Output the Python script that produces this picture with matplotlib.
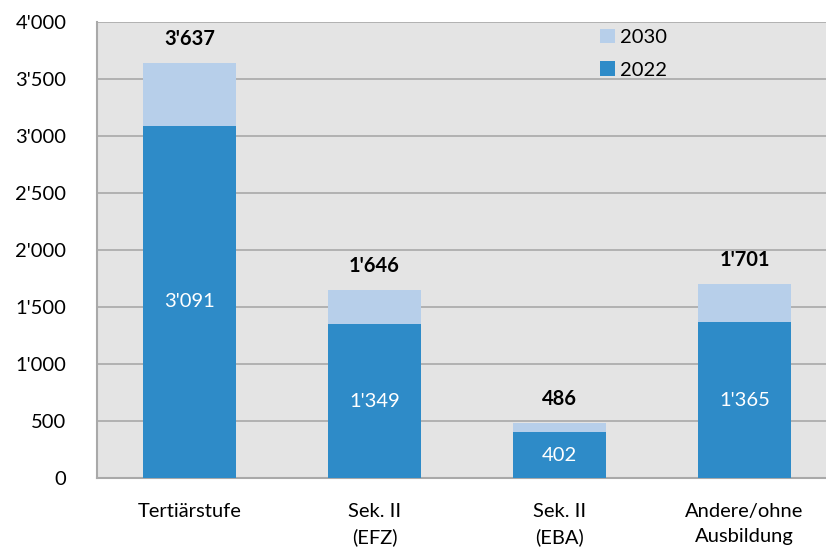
import matplotlib.pyplot as plt
import numpy as np

categories = ["Tertiärstufe", "Sek. II\n(EFZ)", "Sek. II\n(EBA)", "Andere/ohne\nAusbildung"]
values_2022 = [3091, 1349, 402, 1365]
totals_2030 = [3637, 1646, 486, 1701]
yticks = [0, 500, 1000, 1500, 2000, 2500, 3000, 3500, 4000]

def fmt(v):
    return f"{v:,}".replace(",", "'")

plt.rcParams['font.family'] = ['Lato', 'DejaVu Sans']
fs = 14.5

fig = plt.figure(figsize=(8.26, 5.49), dpi=100)
ax = fig.add_axes([97 / 826, 1 - 478 / 549, 740 / 826, 456 / 549])
ax.set_facecolor('#e4e4e4')

x = np.arange(len(categories))
add = [t - b for t, b in zip(totals_2030, values_2022)]
c22 = '#2e8bc8'
c30 = '#b7cfea'
b1 = ax.bar(x, values_2022, width=0.5, color=c22, label='2022', zorder=3)
b2 = ax.bar(x, add, bottom=values_2022, width=0.5, color=c30, label='2030', zorder=3)

for xi, v, t in zip(x, values_2022, totals_2030):
    ax.text(xi, v / 2, fmt(v), ha='center', va='center', color='white', fontsize=fs, zorder=4)
    ax.text(xi, t + 210, fmt(t), ha='center', va='center', color='black', fontsize=fs,
            fontweight='bold', zorder=4)

ax.set_xlim(-0.5, 3.5)
ax.set_ylim(0, 4000)
ax.set_yticks(yticks)
ax.set_yticklabels([fmt(v) for v in yticks], fontsize=fs)
ax.set_xticks(x)
ax.set_xticklabels(categories, fontsize=fs, linespacing=1.55)
ax.tick_params(length=0)
ax.tick_params(axis='x', pad=18)
ax.tick_params(axis='y', pad=22)
ax.grid(axis='y', color='#a9a9a9', linewidth=1.2, zorder=1)
for s in ['top', 'right']:
    ax.spines[s].set_visible(False)
for s in ['left', 'bottom']:
    ax.spines[s].set_color('#a9a9a9')
    ax.spines[s].set_linewidth(1.5)

ax.legend(handles=[b2, b1], loc='upper left', bbox_to_anchor=(0.655, 1.025), frameon=False,
          fontsize=fs, handlelength=0.75, handleheight=0.75, handletextpad=0.25, labelspacing=0.75)

fig.savefig('out.png', dpi=100)
